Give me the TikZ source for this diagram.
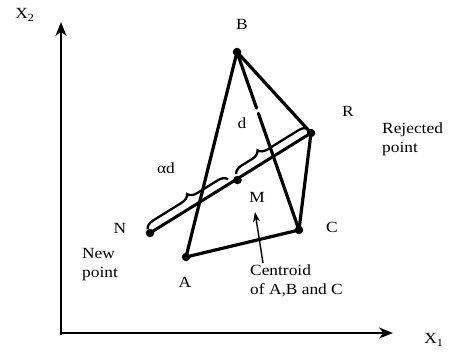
\documentclass[tikz,border=0pt]{standalone}
\usepackage{fontspec}
\setmainfont{Liberation Serif}[FakeStretch=1.12]
\usetikzlibrary{arrows.meta,decorations.pathreplacing,calc}
\begin{document}
\begin{tikzpicture}[x=1pt,y=-1pt,
  dot/.style={circle,fill,inner sep=0pt,minimum size=8.5pt},
  lbl/.style={inner sep=0pt,font=\fontsize{15.5}{19}\selectfont},
  txt/.style={lbl,align=left,anchor=base west},
  edge/.style={line width=3.2pt,line cap=round,line join=round},
  axis/.style={line width=2.8pt,-{Stealth[length=14pt,width=11pt]}},
  brc/.style={decorate,decoration={brace,amplitude=9pt,raise=4.5pt,aspect=#1},line width=2.3pt},
]
\useasboundingbox (0,0) rectangle (450,356);
% axes
\coordinate (O) at (61,333);
\coordinate (Y) at (61,22);
\coordinate (X) at (393,333);
\draw[axis] ([yshift=-1.5pt]O) -- (Y);
\draw[axis] ([xshift=-1.5pt]O) -- (X);
\node[lbl] (x2) at (25,15) {X\textsubscript{2}};
\node[lbl] (x1) at (434,340) {X\textsubscript{1}};
% points
\node[dot] (A) at (186,257) {};
\node[dot] (B) at (237,52) {};
\node[dot] (C) at (299,230) {};
\node[dot] (R) at (311,133) {};
\node[dot] (N) at (150,233) {};
\node[dot] (M) at (237.5,180) {};
% simplex edges
\draw[edge] (B.center) -- (A.center) -- (C.center) -- (R.center) -- cycle;
\draw[edge] (B.center) -- ($(B)!0.315!(C)$);
\draw[edge] ($(B)!0.345!(C)$) -- (C.center);
% reflection line
\draw[line width=3pt,line cap=round] (N.center) -- (R.center);
% braces
\draw[brc=0.55] (N.center) -- ($(N)!0.5!(R)$);
\draw[brc=0.36] ($(N)!0.55!(R)$) -- (R.center);
% labels
\node[lbl] (Bl) at (242,24) {B};
\node[lbl] (Rl) at (348,111) {R};
\node[lbl] (Cl) at (332,227) {C};
\node[lbl] (Nl) at (120,228) {N};
\node[lbl] (Al) at (185,282) {A};
\node[lbl] (Ml) at (257,197) {M};
\node[lbl] (dl) at (242,123) {d};
\node[lbl] (adl) at (166,168) {αd};
\node[txt] (rej) at (382,152) {Rejected\\point};
\node[txt] (new) at (82,277) {New\\point};
\node[txt] (cen) at (250,294) {Centroid\\of A,B and C};
% centroid arrow
\coordinate (ct) at (263,263);
\coordinate (mt) at (255,212);
\draw[line width=1.4pt,-{Stealth[length=10pt,width=7pt]}] (ct) -- (mt);
\end{tikzpicture}
\end{document}
